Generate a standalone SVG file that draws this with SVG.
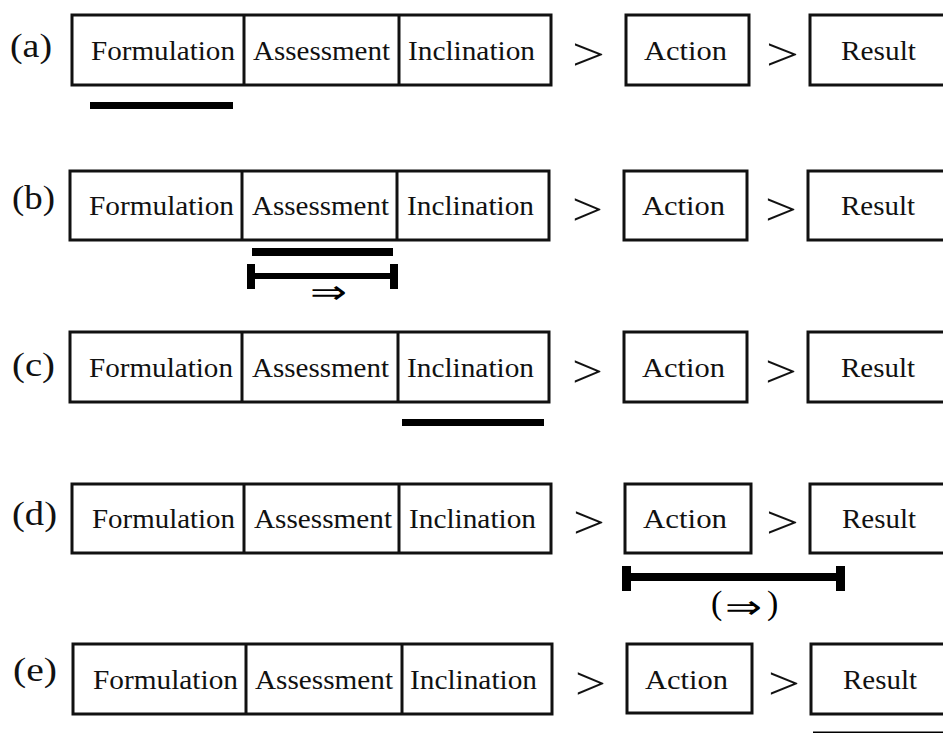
<svg xmlns="http://www.w3.org/2000/svg" width="943" height="733" viewBox="0 0 943 733">
  <style>
    .box { fill: #fff; stroke: #111; stroke-width: 3; }
    .div { stroke: #111; stroke-width: 3; }
    .t { font-family: "Liberation Serif", "Times New Roman", serif; font-size: 26.5px; fill: #111; }
    .lbl { font-family: "Liberation Serif", "Times New Roman", serif; font-size: 34px; fill: #111; }
    .gt { font-family: "Liberation Serif", "Times New Roman", serif; font-size: 46px; fill: #111; }
    .bar { fill: #000; }
    .arr { font-family: "DejaVu Sans", sans-serif; font-size: 32px; fill: #000; }
    .par { font-family: "Liberation Serif", "Times New Roman", serif; font-size: 34px; fill: #000; }
  </style>
  <rect width="943" height="733" fill="#fff"/>

  <!-- row (a) -->
  <g id="row-a">
    <text class="lbl" x="10" y="57" textLength="42" lengthAdjust="spacingAndGlyphs">(a)</text>
    <g id="a-fai">
      <rect class="box" x="72" y="15" width="479" height="70"/>
      <line class="div" x1="244" y1="15" x2="244" y2="85"/>
      <line class="div" x1="399" y1="15" x2="399" y2="85"/>
      <text class="t" x="91" y="60" textLength="144" lengthAdjust="spacingAndGlyphs">Formulation</text>
      <text class="t" x="253" y="60" textLength="137" lengthAdjust="spacingAndGlyphs">Assessment</text>
      <text class="t" x="408" y="60" textLength="127" lengthAdjust="spacingAndGlyphs">Inclination</text>
    </g>
    <g id="a-action">
      <rect class="box" x="626" y="15" width="123" height="70"/>
      <text class="t" x="644" y="60" textLength="83" lengthAdjust="spacingAndGlyphs">Action</text>
    </g>
    <g id="a-result">
      <rect class="box" x="810" y="15" width="150" height="70"/>
      <text class="t" x="841" y="60" textLength="75" lengthAdjust="spacingAndGlyphs">Result</text>
    </g>
    <rect class="bar" x="90" y="102" width="143" height="7"/>
  </g>

  <!-- row (b) -->
  <g id="row-b">
    <text class="lbl" x="12" y="209" textLength="43" lengthAdjust="spacingAndGlyphs">(b)</text>
    <g id="b-fai">
      <rect class="box" x="70" y="171" width="479" height="69"/>
      <line class="div" x1="242" y1="171" x2="242" y2="240"/>
      <line class="div" x1="397" y1="171" x2="397" y2="240"/>
      <text class="t" x="89" y="215" textLength="145" lengthAdjust="spacingAndGlyphs">Formulation</text>
      <text class="t" x="252" y="215" textLength="137" lengthAdjust="spacingAndGlyphs">Assessment</text>
      <text class="t" x="407" y="215" textLength="127" lengthAdjust="spacingAndGlyphs">Inclination</text>
    </g>
    <g id="b-action">
      <rect class="box" x="624" y="171" width="123" height="69"/>
      <text class="t" x="642" y="215" textLength="83" lengthAdjust="spacingAndGlyphs">Action</text>
    </g>
    <g id="b-result">
      <rect class="box" x="808" y="171" width="150" height="69"/>
      <text class="t" x="841" y="215" textLength="74" lengthAdjust="spacingAndGlyphs">Result</text>
    </g>
    <rect class="bar" x="252" y="248" width="141" height="8"/>
    <rect class="bar" x="247" y="273" width="151" height="6"/>
    <rect class="bar" x="247" y="264" width="8" height="25"/>
    <rect class="bar" x="390" y="264" width="8" height="25"/>
    <text class="arr" x="310" y="303" textLength="37" lengthAdjust="spacingAndGlyphs">⇒</text>
  </g>

  <!-- row (c) -->
  <g id="row-c">
    <text class="lbl" x="12" y="376" textLength="43" lengthAdjust="spacingAndGlyphs">(c)</text>
    <g id="c-fai">
      <rect class="box" x="70" y="332" width="479" height="70"/>
      <line class="div" x1="242" y1="332" x2="242" y2="402"/>
      <line class="div" x1="398" y1="332" x2="398" y2="402"/>
      <text class="t" x="89" y="377" textLength="144" lengthAdjust="spacingAndGlyphs">Formulation</text>
      <text class="t" x="252" y="377" textLength="137" lengthAdjust="spacingAndGlyphs">Assessment</text>
      <text class="t" x="407" y="377" textLength="127" lengthAdjust="spacingAndGlyphs">Inclination</text>
    </g>
    <g id="c-action">
      <rect class="box" x="624" y="332" width="123" height="70"/>
      <text class="t" x="642" y="377" textLength="83" lengthAdjust="spacingAndGlyphs">Action</text>
    </g>
    <g id="c-result">
      <rect class="box" x="808" y="332" width="150" height="70"/>
      <text class="t" x="841" y="377" textLength="74" lengthAdjust="spacingAndGlyphs">Result</text>
    </g>
    <rect class="bar" x="402" y="419" width="142" height="7"/>
  </g>

  <!-- row (d) -->
  <g id="row-d">
    <text class="lbl" x="12" y="525" textLength="45" lengthAdjust="spacingAndGlyphs">(d)</text>
    <g id="d-fai">
      <rect class="box" x="72" y="484" width="479" height="69"/>
      <line class="div" x1="244" y1="484" x2="244" y2="553"/>
      <line class="div" x1="399" y1="484" x2="399" y2="553"/>
      <text class="t" x="92" y="528" textLength="143" lengthAdjust="spacingAndGlyphs">Formulation</text>
      <text class="t" x="254" y="528" textLength="138" lengthAdjust="spacingAndGlyphs">Assessment</text>
      <text class="t" x="409" y="528" textLength="127" lengthAdjust="spacingAndGlyphs">Inclination</text>
    </g>
    <g id="d-action">
      <rect class="box" x="625" y="484" width="126" height="69"/>
      <text class="t" x="643" y="528" textLength="84" lengthAdjust="spacingAndGlyphs">Action</text>
    </g>
    <g id="d-result">
      <rect class="box" x="810" y="484" width="150" height="69"/>
      <text class="t" x="842" y="528" textLength="74" lengthAdjust="spacingAndGlyphs">Result</text>
    </g>
    <rect class="bar" x="622" y="573" width="223" height="8"/>
    <rect class="bar" x="622" y="566" width="9" height="25"/>
    <rect class="bar" x="836" y="566" width="9" height="25"/>
    <text class="par" x="711" y="614">(</text>
    <text class="arr" x="725" y="618" textLength="37" lengthAdjust="spacingAndGlyphs">⇒</text>
    <text class="par" x="767" y="614">)</text>
  </g>

  <!-- row (e) -->
  <g id="row-e">
    <text class="lbl" x="13" y="681" textLength="44" lengthAdjust="spacingAndGlyphs">(e)</text>
    <g id="e-fai">
      <rect class="box" x="73" y="644" width="479" height="70"/>
      <line class="div" x1="246" y1="644" x2="246" y2="714"/>
      <line class="div" x1="402" y1="644" x2="402" y2="714"/>
      <text class="t" x="93" y="689" textLength="145" lengthAdjust="spacingAndGlyphs">Formulation</text>
      <text class="t" x="255" y="689" textLength="138" lengthAdjust="spacingAndGlyphs">Assessment</text>
      <text class="t" x="410" y="689" textLength="127" lengthAdjust="spacingAndGlyphs">Inclination</text>
    </g>
    <g id="e-action">
      <rect class="box" x="627" y="644" width="125" height="69"/>
      <text class="t" x="645" y="689" textLength="83" lengthAdjust="spacingAndGlyphs">Action</text>
    </g>
    <g id="e-result">
      <rect class="box" x="811" y="644" width="150" height="70"/>
      <text class="t" x="843" y="689" textLength="74" lengthAdjust="spacingAndGlyphs">Result</text>
    </g>
    <rect class="bar" x="813" y="731.5" width="135" height="7"/>
  </g>

  <!-- sequence connectors -->
  <g id="connectors">
    <text class="gt" x="572" y="70" textLength="33" lengthAdjust="spacingAndGlyphs">&gt;</text>
    <text class="gt" x="766" y="70" textLength="33" lengthAdjust="spacingAndGlyphs">&gt;</text>
    <text class="gt" x="572" y="225" textLength="31" lengthAdjust="spacingAndGlyphs">&gt;</text>
    <text class="gt" x="765" y="225" textLength="32" lengthAdjust="spacingAndGlyphs">&gt;</text>
    <text class="gt" x="572" y="387" textLength="31" lengthAdjust="spacingAndGlyphs">&gt;</text>
    <text class="gt" x="765" y="387" textLength="32" lengthAdjust="spacingAndGlyphs">&gt;</text>
    <text class="gt" x="573" y="538" textLength="32" lengthAdjust="spacingAndGlyphs">&gt;</text>
    <text class="gt" x="766" y="538" textLength="33" lengthAdjust="spacingAndGlyphs">&gt;</text>
    <text class="gt" x="575" y="699" textLength="31" lengthAdjust="spacingAndGlyphs">&gt;</text>
    <text class="gt" x="768" y="699" textLength="32" lengthAdjust="spacingAndGlyphs">&gt;</text>
  </g>
</svg>
